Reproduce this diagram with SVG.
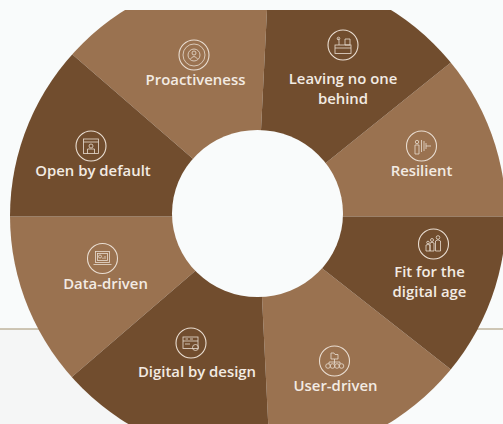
<svg xmlns="http://www.w3.org/2000/svg" width="503" height="424" viewBox="0 0 503 424">
<style>
.d{fill:#714d2e}.l{fill:#9a7250}
text{font-family:"Open Sans","Liberation Sans",sans-serif;font-weight:600;font-size:14.900px;fill:#f3ebe3;text-anchor:middle}
.r{fill:none;stroke:#e9ddd1;stroke-width:1.1}
.i{fill:none;stroke:#e9ddd1;stroke-width:.8}
</style>
<defs>
<clipPath id="w"><path d="M0 10H503V424H0Z"/></clipPath>
<clipPath id="e"><ellipse cx="258" cy="216" rx="248" ry="244"/></clipPath>
</defs>
<rect width="503" height="424" fill="#f9fbfb"/>
<rect x="0" y="329" width="270" height="95" fill="#f5f6f6"/>
<g id="rules" stroke="#a3916f" stroke-width="1">
<line x1="0" y1="329" x2="40" y2="329"/>
<line x1="475" y1="329" x2="503" y2="329"/>
</g>
<g clip-path="url(#w)"><g clip-path="url(#e)">
<g id="node-proactiveness"><polygon class="l" points="258,214 192,158 73,55 0,-8 267,-8 267,10 261,130"/></g>
<g id="node-resilient"><polygon class="l" points="258,214 327,162 449,64 510,15 510,216.500 344,216.500"/></g>
<g id="node-user"><polygon class="l" points="258,214 323,269 449,368 510,415 510,430 268.500,430 262,297"/></g>
<g id="node-data"><polygon class="l" points="258,214 194,272 73,376 -10,448 -10,216.500 172,216.500"/></g>
<g id="node-open"><polygon class="d" points="258,214 192,158 73,55 0,-8 0,216.500 172,216.500"/></g>
<g id="node-leaving"><polygon class="d" points="258,214 261,130 267,10 267,-8 503,-8 503,20 449,64 327,162"/></g>
<g id="node-fit"><polygon class="d" points="258,214 344,216.500 510,216.500 510,415 449,368 323,269"/></g>
<g id="node-digital"><polygon class="d" points="258,214 262,297 268.500,430 0,440 73,376 194,272"/></g>
</g></g>
<ellipse id="hole" cx="257.500" cy="213.500" rx="85.500" ry="83.500" fill="#f9fbfb"/>

<g id="label-proactiveness">
<circle class="r" cx="194" cy="55" r="15"/><circle class="i" cx="194" cy="55" r="11"/><circle class="i" cx="194" cy="55" r="6"/><circle class="i" cx="194" cy="53" r="2"/><path class="i" d="M190.500 59Q194 54 197.500 59"/>
<text x="195.500" y="85">Proactiveness</text></g>
<g id="label-leaving">
<circle class="r" cx="343" cy="45" r="15"/><rect class="i" x="335" y="45" width="16" height="8.500"/><path class="i" d="M335 48H351M339 45V40.500Q339 38 337.500 39M345 39H350V45H345Z"/><circle class="i" cx="338.500" cy="38.500" r="1.300"/>
<text x="343" y="84">Leaving no one</text><text x="343" y="104">behind</text></g>
<g id="label-resilient">
<circle class="r" cx="421.500" cy="146" r="15"/><circle class="i" cx="417" cy="142" r="1.700"/><path class="i" d="M415 145H419V154H415ZM421.500 140V152M424 141V151M426 143V149M426 146H431"/>
<text x="421.500" y="176">Resilient</text></g>
<g id="label-fit">
<circle class="r" cx="433.500" cy="244" r="15"/><circle class="i" cx="438" cy="237.500" r="1.800"/><path class="i" d="M435.500 251V241Q438 238.500 440.500 241V251Z"/><circle class="i" cx="432" cy="240" r="1.500"/><path class="i" d="M430 251V243Q432 241.500 434 243V251Z"/><circle class="i" cx="428" cy="242.500" r="1.300"/><path class="i" d="M426 251V245Q428 244 430 245V251Z"/>
<text x="429.500" y="277">Fit for the</text><text x="429.500" y="297">digital age</text></g>
<g id="label-user">
<circle class="r" cx="334.500" cy="361" r="15"/><path class="i" d="M331 353H334L335 354.500H338V359H331ZM334.500 359V362M329 362H340V364M329 362V364M334.500 362V364"/><circle class="i" cx="328" cy="366" r="2.300"/><circle class="i" cx="332.500" cy="366" r="2.300"/><circle class="i" cx="337" cy="366" r="2.300"/><circle class="i" cx="341.500" cy="366" r="2.300"/>
<text x="335.500" y="391">User-driven</text></g>
<g id="label-digital">
<circle class="r" cx="191" cy="343" r="15"/><rect class="i" x="183" y="337" width="15" height="11.500"/><path class="i" d="M183 341H198M185.500 339H188M190 339H193M185 344H190"/><circle class="i" cx="195.500" cy="347.500" r="3"/>
<text x="197" y="377">Digital by design</text></g>
<g id="label-data">
<circle class="r" cx="102.500" cy="258.500" r="15"/><rect class="i" x="95.500" y="251.500" width="14" height="11"/><rect class="i" x="97.500" y="253.500" width="10" height="7"/><path class="i" d="M93.500 264.500H111.500M105 259V256M103 259V257.500"/><circle class="i" cx="100" cy="256.500" r="1.500"/>
<text x="105.500" y="289">Data-driven</text></g>
<g id="label-open">
<circle class="r" cx="91" cy="146" r="15"/><rect class="i" x="83.500" y="139" width="15" height="14.500"/><path class="i" d="M83.500 142H98.500M87.500 153.500V149H94.500V153.500"/><circle class="i" cx="91" cy="146" r="2"/>
<text x="93" y="176">Open by default</text></g>
</svg>
